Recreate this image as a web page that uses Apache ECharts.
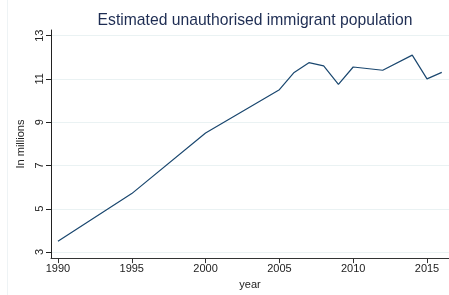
<!DOCTYPE html>
<html>
<head>
<meta charset="utf-8">
<script src="https://cdn.jsdelivr.net/npm/echarts@6/dist/echarts.min.js"></script>
<style>
  html, body { margin: 0; padding: 0; background: #fff; }
  #chart { width: 449px; height: 295px; }
</style>
</head>
<body>
<div id="chart"></div>
<script>
// estimated unauthorised immigrant population, in millions
const years = [1990, 1995, 2000, 2005, 2006, 2007, 2008, 2009, 2010, 2012, 2014, 2015, 2016];
const population = [3.5, 5.7, 8.5, 10.5, 11.3, 11.75, 11.6, 10.75, 11.55, 11.4, 12.1, 11.0, 11.3];
const xTicks = [1990, 1995, 2000, 2005, 2010, 2015];
const yTicks = [3, 5, 7, 9, 11, 13];

const chart = echarts.init(document.getElementById('chart'));
const font = 'Liberation Sans, Arial, sans-serif';

chart.setOption({
  animation: false,
  title: {
    text: 'Estimated unauthorised immigrant population',
    left: 250,
    textAlign: 'center',
    top: 8,
    textStyle: { fontFamily: font, fontSize: 15.7, fontWeight: 'normal', color: '#1e2d53' }
  },
  grid: { left: 51, right: 0, top: 30, bottom: 34 },
  xAxis: {
    type: 'value',
    min: 1989.53,
    max: 2016.49,
    name: 'year',
    nameLocation: 'middle',
    nameGap: 19,
    nameTextStyle: { fontFamily: font, fontSize: 11, color: '#222' },
    axisLine: { lineStyle: { color: '#333', width: 1 } },
    axisTick: { customValues: xTicks, length: 5, lineStyle: { color: '#333' } },
    axisLabel: {
      customValues: xTicks, fontFamily: font, fontSize: 11, color: '#222', margin: 5,
      formatter: v => String(v)
    },
    splitLine: { show: false }
  },
  yAxis: {
    type: 'value',
    min: 2.72,
    max: 13.26,
    name: 'In millions',
    nameLocation: 'middle',
    nameGap: 23,
    nameRotate: 90,
    nameTextStyle: { fontFamily: font, fontSize: 11, color: '#222' },
    axisLine: { show: true, lineStyle: { color: '#222', width: 1 } },
    axisTick: { show: true, customValues: yTicks, length: 5, lineStyle: { color: '#222' } },
    axisLabel: { customValues: yTicks, rotate: 90, fontFamily: font, fontSize: 11, color: '#222', margin: 6 },
    splitLine: { show: true, lineStyle: { color: '#eaf2f3', width: 1 } }
  },
  graphic: [{
    type: 'line',
    shape: { x1: 7.5, y1: 0, x2: 7.5, y2: 295 },
    style: { stroke: '#eef3f5', lineWidth: 1 }
  }],
  series: [{
    type: 'line',
    data: years.map((y, i) => [y, population[i]]),
    symbol: 'none',
    lineStyle: { color: '#1a476f', width: 1.2 }
  }]
});
</script>
</body>
</html>
